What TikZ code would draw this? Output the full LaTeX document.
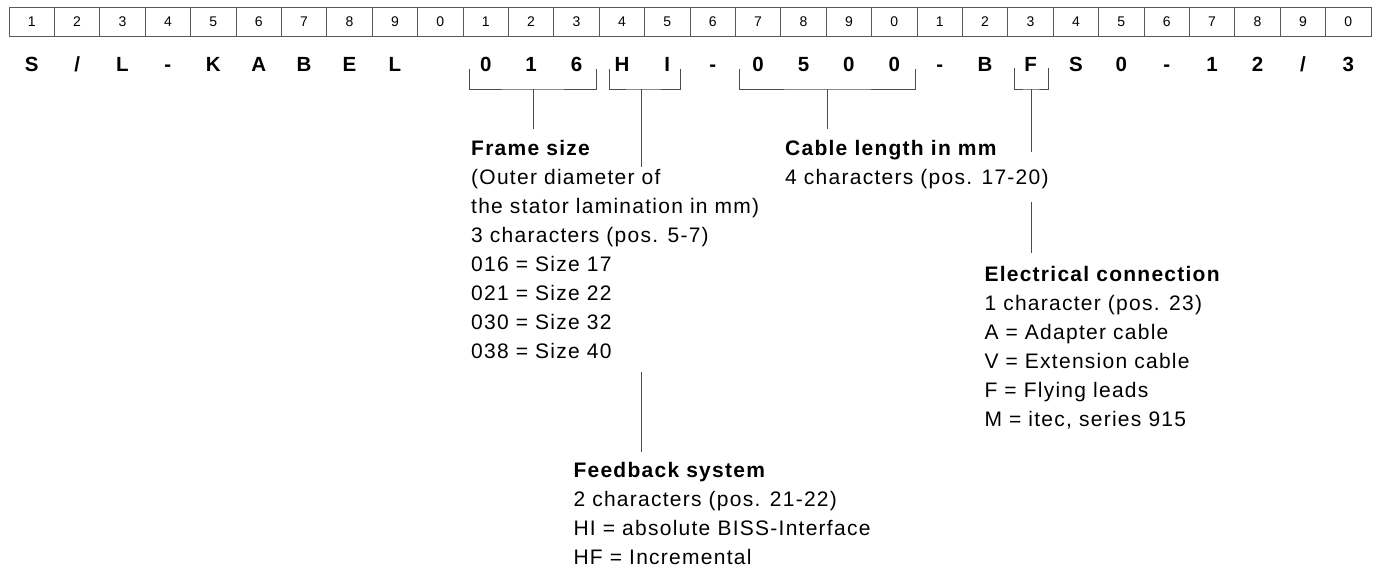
\documentclass[tikz,border=0pt]{standalone}
\usepackage{fontspec}
\setmainfont{Liberation Sans}[LetterSpace=6]
\newfontfamily\numfont{Liberation Sans}
\begin{document}
\begin{tikzpicture}[x=1pt,y=-1pt,
  cell/.style={draw=black!65, line width=0.8pt, minimum width=45.4pt, minimum height=29.4pt, inner sep=0pt, font=\numfont\fontsize{14}{16}\selectfont},
  code/.style={anchor=base, inner sep=0pt, font=\numfont\bfseries\fontsize{20.5}{24}\selectfont},
  brk/.style={draw=black!70, line width=0.8pt},
  stem/.style={draw=black!70, line width=0.8pt},
  desc/.style={anchor=base west, inner sep=0pt, align=left, font=\fontsize{21}{29}\selectfont}]
\useasboundingbox (0,0) rectangle (1376,573);
% number grid
\foreach \i in {1,...,30}{
  \pgfmathtruncatemacro{\d}{mod(\i,10)}
  \node[cell] (n\i) at ({9+45.4*(\i-0.5)},22) {\d};
}
% code characters
\foreach \i/\ch in {1/S,2/{/},3/L,4/-,5/K,6/A,7/B,8/E,9/L,11/0,12/1,13/6,14/H,15/I,16/-,17/0,18/5,19/0,20/0,21/-,22/B,23/F,24/S,25/0,26/-,27/1,28/2,29/{/},30/3}{
  \node[code] (c\i) at ({9+45.4*(\i-0.5)},71.7) {\ch};
}
% brackets
\coordinate (b1l) at (469.3,69); \coordinate (b1r) at (596.7,69); \coordinate (b1m) at (533,89);
\coordinate (b2l) at (609.3,69); \coordinate (b2r) at (680,69);   \coordinate (b2m) at (641.7,89);
\coordinate (b3l) at (739.3,69); \coordinate (b3r) at (915,69);   \coordinate (b3m) at (827.7,89);
\coordinate (b4l) at (1014.3,68); \coordinate (b4r) at (1048.3,68); \coordinate (b4m) at (1031,89);
\foreach \k in {1,2,3,4}{
  \draw[brk] (b\k l) |- (b\k m) -| (b\k r);
}
% descriptions (anchor = baseline of the last line)
\node[desc] (frame) at (471,358) {\textbf{Frame size}\\(Outer diameter of\\the stator lamination in mm)\\3 characters (pos. 5-7)\\016 = Size 17\\021 = Size 22\\030 = Size 32\\038 = Size 40};
\node[desc] (cable) at (785,184) {\textbf{Cable length in mm}\\4 characters (pos. 17-20)};
\node[desc] (elec) at (984.3,426.7) {\textbf{Electrical connection}\\1 character (pos. 23)\\A = Adapter cable\\V = Extension cable\\F = Flying leads\\M = itec, series 915};
\node[desc] (feed) at (573.3,564) {\textbf{Feedback system}\\2 characters (pos. 21-22)\\HI = absolute BISS-Interface\\HF = Incremental};
% stems
\coordinate (s1e) at (533,129);
\coordinate (s2e) at (641.7,167);
\coordinate (s2a) at (641.7,372);
\coordinate (s2b) at (641.7,452);
\coordinate (s3e) at (827.7,129);
\coordinate (s4e) at (1031,152);
\coordinate (s4a) at (1031,202);
\coordinate (s4b) at (1031,253);
\draw[stem] (b1m) -- (s1e);
\draw[stem] (b2m) -- (s2e);
\draw[stem] (s2a) -- (s2b);
\draw[stem] (b3m) -- (s3e);
\draw[stem] (b4m) -- (s4e);
\draw[stem] (s4a) -- (s4b);
\end{tikzpicture}
\end{document}
